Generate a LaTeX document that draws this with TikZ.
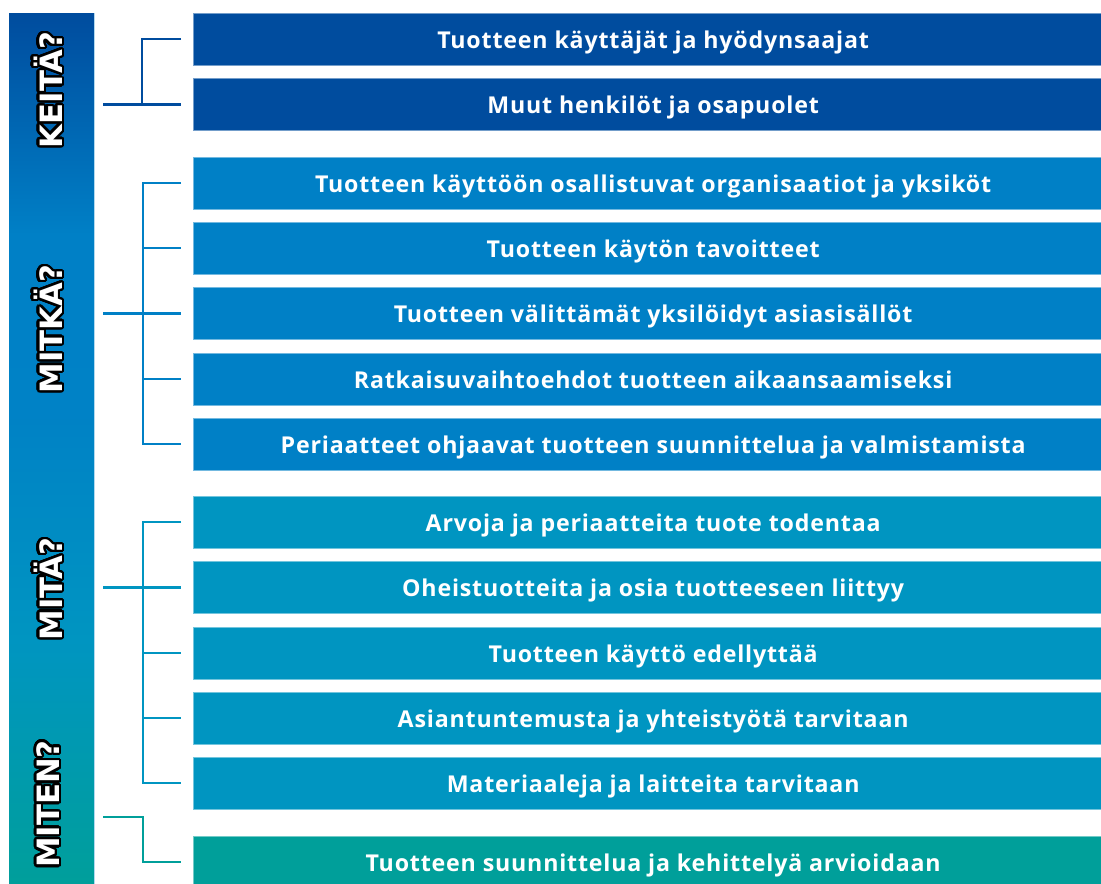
\documentclass[tikz,border=0pt]{standalone}
\usepackage{fontspec}
\setmainfont{Open Sans}
\usepackage{contour}
\usetikzlibrary{calc}

\definecolor{keita}{HTML}{004C9E}
\definecolor{mitka}{HTML}{0080C6}
\definecolor{mita}{HTML}{0095C1}
\definecolor{miten}{HTML}{009F9A}

\newfontfamily\boxfont[LetterSpace=3.5]{Open Sans}
\newfontfamily\askfont{DejaVu Sans}
\contourlength{1.3pt}
\contournumber{32}

\tikzset{
  box/.style={anchor=west,minimum width=18.4cm,minimum height=1.04cm,inner sep=0pt,
    text height=12pt,text depth=1.4pt,
    text=white,draw=#1!55!white,line width=0.3pt,fill=#1,
    font=\boxfont\bfseries\fontsize{13.2}{16}\selectfont},
  ask/.style={rotate=90,inner sep=0pt,font=\askfont\bfseries\fontsize{17.5}{20}\selectfont},
  link/.style={line width=1.6pt,#1}
}
\newcommand{\asktext}[1]{\contour{black}{\textcolor{white}{#1}}}

\begin{document}
\begin{tikzpicture}[x=0.02cm,y=-0.02cm]
  \clip (0,0) rectangle (1101,883);

  % left bar, shaded in parts
  \shade[top color=keita,bottom color=mitka] (9,13) rectangle (94,235);
  \shade[top color=mitka,bottom color=mitka!90!mita] (9,235) rectangle (94,420);
  \shade[top color=mitka!90!mita,bottom color=mita] (9,420) rectangle (94,640);
  \shade[top color=mita,bottom color=miten] (9,640) rectangle (94,890);
  \draw[white!70!mitka,line width=0.4pt] (94,13) -- (94,890);

  \node[ask] (k1) at (49,90) {\asktext{KEITÄ?}};
  \node[ask] (k2) at (49,329) {\asktext{MITKÄ?}};
  \node[ask] (k3) at (49,589) {\asktext{MITÄ?}};
  \node[ask] (k4) at (49,804) {\asktext{MITEN?}};

  % boxes
  \node[box=keita] (b1) at (193,39) {Tuotteen käyttäjät ja hyödynsaajat};
  \node[box=keita] (b2) at (193,104.5) {Muut henkilöt ja osapuolet};
  \node[box=mitka] (b3) at (193,183) {Tuotteen käyttöön osallistuvat organisaatiot ja yksiköt};
  \node[box=mitka] (b4) at (193,248) {Tuotteen käytön tavoitteet};
  \node[box=mitka] (b5) at (193,313.5) {Tuotteen välittämät yksilöidyt asiasisällöt};
  \node[box=mitka] (b6) at (193,379) {Ratkaisuvaihtoehdot tuotteen aikaansaamiseksi};
  \node[box=mitka] (b7) at (193,444) {Periaatteet ohjaavat tuotteen suunnittelua ja valmistamista};
  \node[box=mita] (b8) at (193,522) {Arvoja ja periaatteita tuote todentaa};
  \node[box=mita] (b9) at (193,587.5) {Oheistuotteita ja osia tuotteeseen liittyy};
  \node[box=mita] (b10) at (193,653) {Tuotteen käyttö edellyttää};
  \node[box=mita] (b11) at (193,718) {Asiantuntemusta ja yhteistyötä tarvitaan};
  \node[box=mita] (b12) at (193,783) {Materiaaleja ja laitteita tarvitaan};
  \node[box=miten] (b13) at (193,862) {Tuotteen suunnittelua ja kehittelyä arvioidaan};

  % brackets
  \coordinate (q1) at (103,104.5);
  \coordinate (q2) at (103,313.5);
  \coordinate (q3) at (103,587.5);
  \coordinate (q4) at (103,817);
  \coordinate (t1) at (142,0);
  \coordinate (t2) at (143,0);

  \draw[link=keita] (q1) -- ($(b2.west)+(-12,0)$);
  \draw[link=keita] ($(b1.west)+(-12,0)$) -| (q1 -| t1);

  \draw[link=mitka] ($(b3.west)+(-12,0)$) -| (t2 |- b7.west) -- ($(b7.west)+(-12,0)$);
  \foreach \b in {b4,b5,b6}
    \draw[link=mitka] (t2 |- \b.west) -- ($(\b.west)+(-12,0)$);
  \draw[link=mitka] (q2) -- (q2 -| t2);

  \draw[link=mita] ($(b8.west)+(-12,0)$) -| (t2 |- b12.west) -- ($(b12.west)+(-12,0)$);
  \foreach \b in {b9,b10,b11}
    \draw[link=mita] (t2 |- \b.west) -- ($(\b.west)+(-12,0)$);
  \draw[link=mita] (q3) -- (q3 -| t2);

  \draw[link=miten] (q4) -| (t2 |- b13.west) -- ($(b13.west)+(-12,0)$);
\end{tikzpicture}
\end{document}
